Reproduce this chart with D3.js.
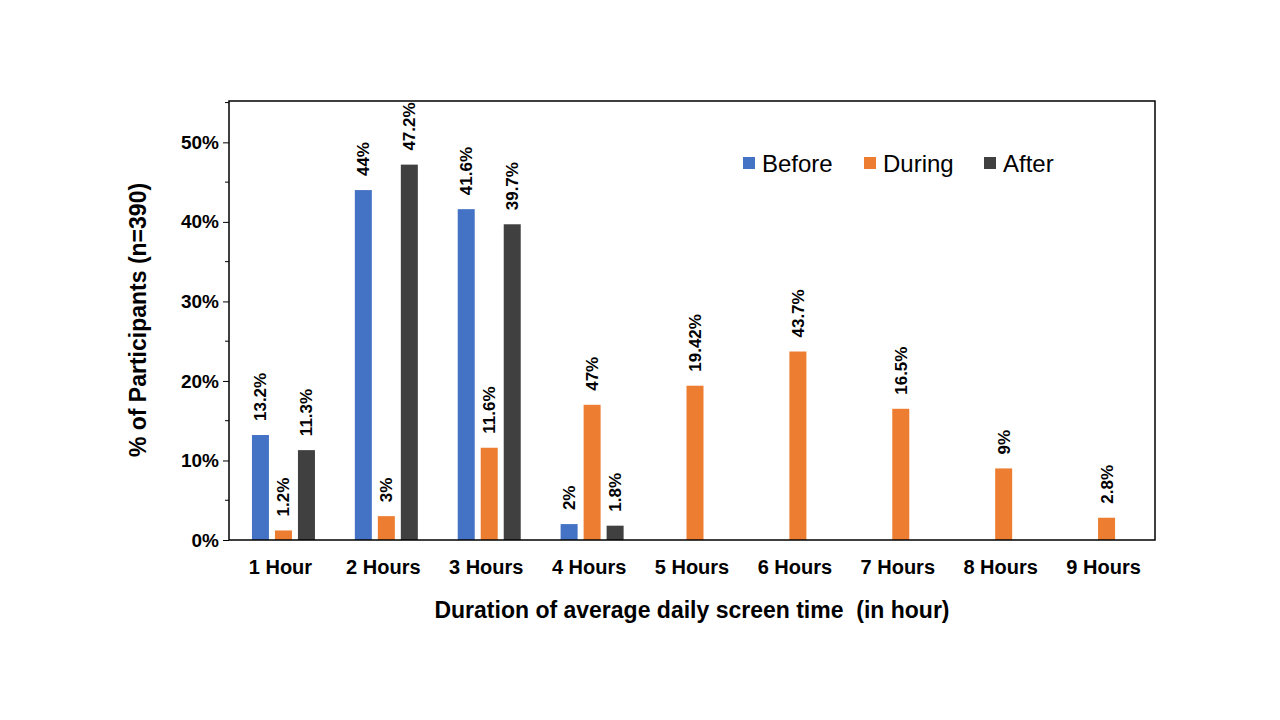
<!DOCTYPE html>
<html>
<head>
<meta charset="utf-8">
<script src="https://cdn.jsdelivr.net/npm/d3@7"></script>
<style>
body { margin: 0; background: #fff; }
text { font-family: "Liberation Sans", Arial, sans-serif; }
</style>
</head>
<body>
<svg id="chart" width="1280" height="720"></svg>
<script>
var categories = ["1 Hour", "2 Hours", "3 Hours", "4 Hours", "5 Hours", "6 Hours", "7 Hours", "8 Hours", "9 Hours"];
var series = ["Before", "During", "After"];
var colors = ["#4472c4", "#ed7d31", "#404040"];

// bar heights (%) and the labels printed on them
var before = [13.2, 44, 41.6, 2, null, null, null, null, null];
var during = [1.2, 3, 11.6, 17, 19.4, 23.7, 16.5, 9, 2.8];
var after = [11.3, 47.2, 39.7, 1.8, null, null, null, null, null];
var beforeLabels = ["13.2%", "44%", "41.6%", "2%"];
var duringLabels = ["1.2%", "3%", "11.6%", "47%", "19.42%", "43.7%", "16.5%", "9%", "2.8%"];
var afterLabels = ["11.3%", "47.2%", "39.7%", "1.8%"];
var yTicks = [0, 10, 20, 30, 40, 50];

var svg = d3.select("#chart");
var mLeft = 229, mRight = 1155, mTop = 101, mBottom = 540;

var x = d3.scaleBand().domain(categories).range([mLeft, mRight]);
var y = d3.scaleLinear().domain([0, 55.2]).range([mBottom, mTop]);
var barW = 17, step = 23;

var values = [before, during, after];
var labels = [beforeLabels, duringLabels, afterLabels];

values.forEach(function (vals, s) {
    var g = svg.append("g");
    var data = vals.map(function (v, i) { return { cat: categories[i], v: v, label: labels[s][i] }; })
        .filter(function (d) { return d.v != null; });
    function cx(d) { return x(d.cat) + x.bandwidth() / 2 + 3 + (s - 1) * step; }
    g.selectAll("rect").data(data).enter().append("rect")
        .attr("x", function (d) { return cx(d) - barW / 2; })
        .attr("width", barW)
        .attr("y", function (d) { return y(d.v); })
        .attr("height", function (d) { return mBottom - y(d.v); })
        .attr("fill", colors[s]);
    g.selectAll("text").data(data).enter().append("text")
        .attr("transform", function (d) {
            return "translate(" + (cx(d) + 6) + "," + (y(d.v) - 14) + ") rotate(-90)";
        })
        .attr("font-size", 17).attr("font-weight", "bold")
        .text(function (d) { return d.label; });
});

// frame
svg.append("rect").attr("x", mLeft).attr("y", mTop)
    .attr("width", mRight - mLeft).attr("height", mBottom - mTop)
    .attr("fill", "none").attr("stroke", "#000").attr("stroke-width", 1.5);

var yAxis = svg.append("g").attr("transform", "translate(" + mLeft + ",0)")
    .call(d3.axisLeft(y).tickValues(yTicks).tickSize(6)
        .tickFormat(function (d) { return d + "%"; }));
yAxis.select(".domain").remove();
yAxis.selectAll("text").attr("font-size", 19).attr("font-weight", "bold")
    .attr("font-family", "Liberation Sans, Arial, sans-serif").attr("fill", "#000").attr("x", -10);
svg.append("g").selectAll("line").data([5, 15, 25, 35, 45, 55]).enter().append("line")
    .attr("x1", mLeft - 4).attr("x2", mLeft)
    .attr("y1", function (d) { return y(d); }).attr("y2", function (d) { return y(d); })
    .attr("stroke", "#000");

var xAxis = svg.append("g").attr("transform", "translate(0," + mBottom + ")")
    .call(d3.axisBottom(x).tickSize(0).tickPadding(20));
xAxis.select(".domain").remove();
xAxis.selectAll("text").attr("font-size", 20).attr("font-weight", "bold")
    .attr("font-family", "Liberation Sans, Arial, sans-serif").attr("fill", "#000");

svg.append("text").attr("x", 692).attr("y", 618).attr("text-anchor", "middle")
    .attr("font-size", 23).attr("font-weight", "bold").attr("xml:space", "preserve")
    .text("Duration of average daily screen time  (in hour)");
svg.append("text").attr("transform", "translate(146,320) rotate(-90)")
    .attr("text-anchor", "middle").attr("font-size", 23).attr("font-weight", "bold")
    .text("% of Participants (n=390)");

// legend
var lx = [743, 864, 984];
series.forEach(function (name, i) {
    svg.append("rect").attr("x", lx[i]).attr("y", 157).attr("width", 12).attr("height", 12)
        .attr("fill", colors[i]);
    svg.append("text").attr("x", lx[i] + 19).attr("y", 172).attr("font-size", 24)
        .text(name);
});
</script>
</body>
</html>
